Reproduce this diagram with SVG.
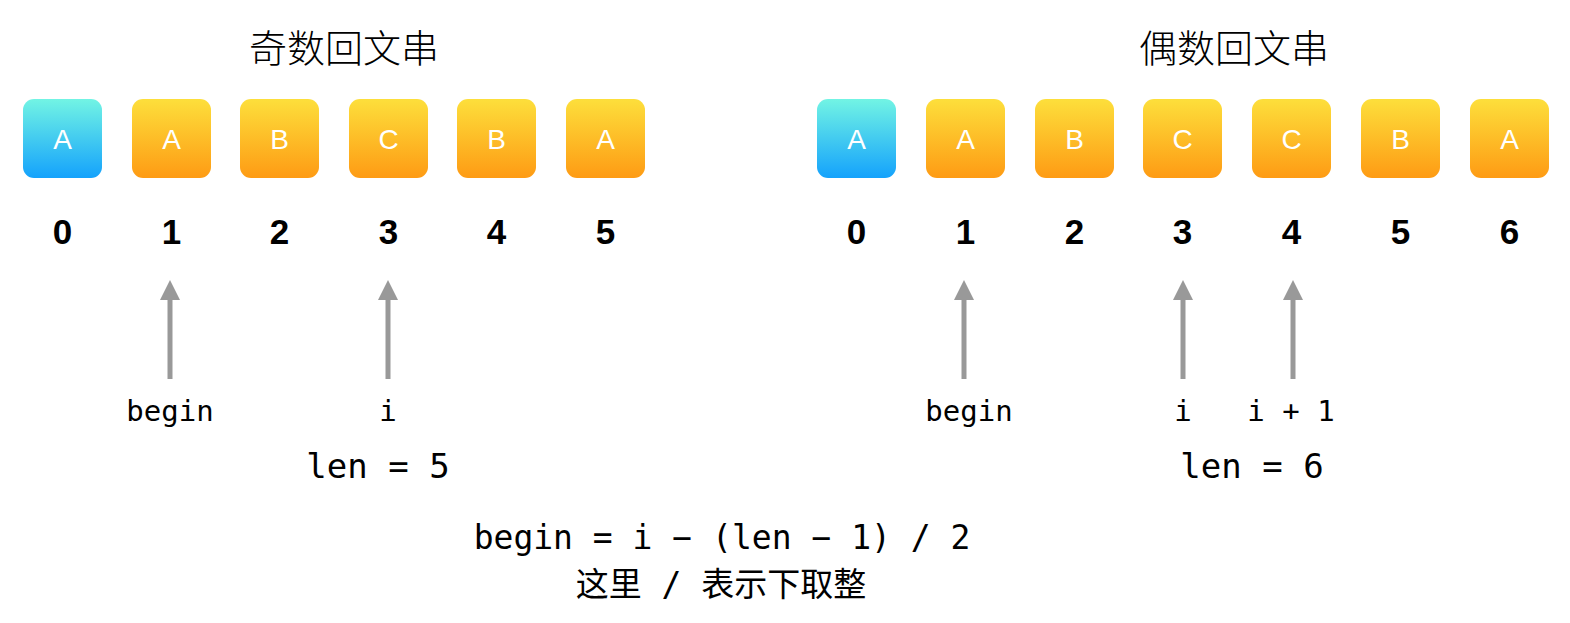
<svg xmlns="http://www.w3.org/2000/svg" width="1570" height="623" viewBox="0 0 1570 623">
<defs>
<linearGradient id="gBlue" x1="0" y1="0" x2="0" y2="1">
<stop offset="0" stop-color="#72F4E4"/>
<stop offset="1" stop-color="#14A2FC"/>
</linearGradient>
<linearGradient id="gOrange" x1="0" y1="0" x2="0" y2="1">
<stop offset="0" stop-color="#FDDF3B"/>
<stop offset="1" stop-color="#FE9B14"/>
</linearGradient>
<marker id="ah" viewBox="0 0 10 10" refX="0" refY="5" markerWidth="4" markerHeight="4" orient="auto" markerUnits="strokeWidth">
<path d="M0,0 L10,5 L0,10 Z" fill="#999999"/>
</marker>
<style>
.box-b{fill:url(#gBlue)}
.box-o{fill:url(#gOrange)}
.ch{font-family:"Liberation Sans",Arial,sans-serif;font-size:28px;fill:#ffffff;text-anchor:middle}
.idx{font-family:"Liberation Sans",Arial,sans-serif;font-size:35px;font-weight:bold;fill:#000;text-anchor:middle}
.title{font-family:"Noto Sans CJK SC",sans-serif;font-size:38px;font-weight:300;fill:#000;text-anchor:middle}
.mono{font-family:"DejaVu Sans Mono","Liberation Mono","Noto Sans CJK SC",monospace;fill:#000;text-anchor:middle}
.lab{font-size:29px}
.len{font-size:34px}
.formula{font-size:33px}
.arrow{stroke:#999999;stroke-width:5;fill:none}
</style>
</defs>
<rect width="1570" height="623" fill="#ffffff"/>
<text class="title" x="344" y="62">奇数回文串</text>
<text class="title" x="1234" y="62">偶数回文串</text>

<g id="odd-0"><rect class="box-b" x="23" y="99" width="79" height="79" rx="11"/><text class="ch" x="62.5" y="149">A</text><text class="idx" x="62.5" y="244">0</text></g>
<g id="odd-1"><rect class="box-o" x="132" y="99" width="79" height="79" rx="11"/><text class="ch" x="171.5" y="149">A</text><text class="idx" x="171.5" y="244">1</text></g>
<g id="odd-2"><rect class="box-o" x="240" y="99" width="79" height="79" rx="11"/><text class="ch" x="279.5" y="149">B</text><text class="idx" x="279.5" y="244">2</text></g>
<g id="odd-3"><rect class="box-o" x="349" y="99" width="79" height="79" rx="11"/><text class="ch" x="388.5" y="149">C</text><text class="idx" x="388.5" y="244">3</text></g>
<g id="odd-4"><rect class="box-o" x="457" y="99" width="79" height="79" rx="11"/><text class="ch" x="496.5" y="149">B</text><text class="idx" x="496.5" y="244">4</text></g>
<g id="odd-5"><rect class="box-o" x="566" y="99" width="79" height="79" rx="11"/><text class="ch" x="605.5" y="149">A</text><text class="idx" x="605.5" y="244">5</text></g>

<g id="even-0"><rect class="box-b" x="817" y="99" width="79" height="79" rx="11"/><text class="ch" x="856.5" y="149">A</text><text class="idx" x="856.5" y="244">0</text></g>
<g id="even-1"><rect class="box-o" x="926" y="99" width="79" height="79" rx="11"/><text class="ch" x="965.5" y="149">A</text><text class="idx" x="965.5" y="244">1</text></g>
<g id="even-2"><rect class="box-o" x="1035" y="99" width="79" height="79" rx="11"/><text class="ch" x="1074.5" y="149">B</text><text class="idx" x="1074.5" y="244">2</text></g>
<g id="even-3"><rect class="box-o" x="1143" y="99" width="79" height="79" rx="11"/><text class="ch" x="1182.5" y="149">C</text><text class="idx" x="1182.5" y="244">3</text></g>
<g id="even-4"><rect class="box-o" x="1252" y="99" width="79" height="79" rx="11"/><text class="ch" x="1291.5" y="149">C</text><text class="idx" x="1291.5" y="244">4</text></g>
<g id="even-5"><rect class="box-o" x="1361" y="99" width="79" height="79" rx="11"/><text class="ch" x="1400.5" y="149">B</text><text class="idx" x="1400.5" y="244">5</text></g>
<g id="even-6"><rect class="box-o" x="1470" y="99" width="79" height="79" rx="11"/><text class="ch" x="1509.5" y="149">A</text><text class="idx" x="1509.5" y="244">6</text></g>

<g id="connectors">
<line class="arrow" x1="170" y1="379" x2="170" y2="300" marker-end="url(#ah)"/>
<line class="arrow" x1="388" y1="379" x2="388" y2="300" marker-end="url(#ah)"/>
<line class="arrow" x1="964" y1="379" x2="964" y2="300" marker-end="url(#ah)"/>
<line class="arrow" x1="1183" y1="379" x2="1183" y2="300" marker-end="url(#ah)"/>
<line class="arrow" x1="1293" y1="379" x2="1293" y2="300" marker-end="url(#ah)"/>
</g>

<g id="labels">
<text class="mono lab" x="170" y="421">begin</text>
<text class="mono lab" x="388" y="421">i</text>
<text class="mono len" x="378" y="478">len = 5</text>
<text class="mono lab" x="969" y="421">begin</text>
<text class="mono lab" x="1183" y="421">i</text>
<text class="mono lab" x="1291" y="421">i + 1</text>
<text class="mono len" x="1252" y="478">len = 6</text>
<text class="mono formula" x="722" y="549">begin = i − (len − 1) / 2</text>
<text class="mono formula" x="721" y="596">这里 / 表示下取整</text>
</g>
</svg>
